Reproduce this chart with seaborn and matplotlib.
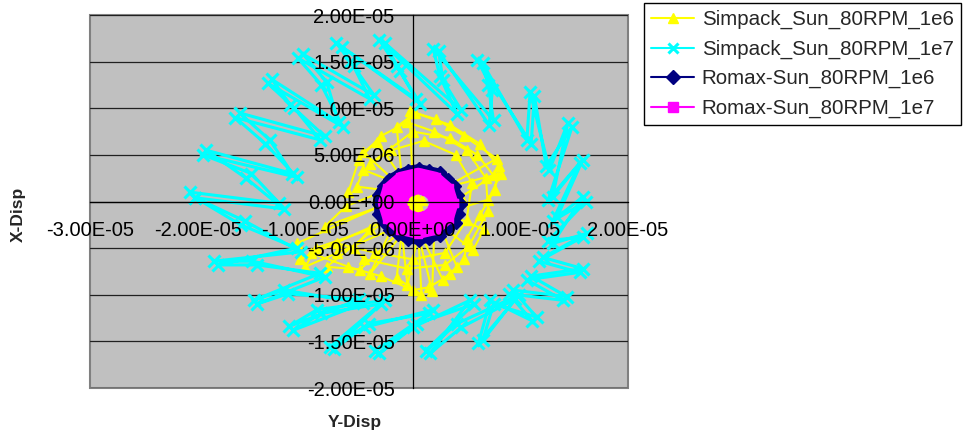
import numpy as np
import pandas as pd
import matplotlib
matplotlib.use("Agg")
import matplotlib.pyplot as plt
import seaborn as sns

sns.set_style("white")
plt.rcParams['font.family'] = ['Liberation Sans', 'DejaVu Sans']

# ---------------- data (displacements) ----------------
# Simpack_Sun_80RPM_1e6  (units of 1e-5)
simpack_1e6_x = [0.035, 0.09, 0.06, -0.01, -0.02, 0.04, 0.035,
                 0.00, -0.03, 0.22, 0.48, 0.78, 0.30, 0.82, 0.70, 0.30, 0.66, 0.56, 0.25,
                 0.41, 0.28, 0.05, 0.08, -0.15, -0.10, -0.49, -0.80, -0.25, -1.05, -1.08,
                 -0.30, -0.82, -0.62, -0.25, -0.52, -0.46, -0.15, -0.46, -0.33, -0.10,
                 -0.15, 0.02, 0.35, 0.62, 0.80, 0.76, 0.62, 0.50, 0.48, 0.35, 0.15, 0.00,
                 -0.30, -0.60, -0.95, -0.70, -0.35, 0.00, 0.30, 0.50, 0.55, 0.40, 0.10,
                 -0.20, -0.40,
                 0.00, 0.35, 0.60, 0.75, 0.45, 0.20, 0.18, 0.05, -0.05, -0.10, -0.40,
                 -0.20, -0.70, -1.00, -0.90, -0.40, -0.55, -0.45, -0.05, 0.30, 0.52,
                 0.70, 0.68, 0.50, 0.20, -0.05, -0.30, -0.50, -0.60]
simpack_1e6_y = [-0.02, 0.02, -0.07, -0.06, 0.02, 0.05, -0.02,
                 0.20, 0.97, 0.88, 0.70, 0.46, 0.15, 0.30, 0.02, -0.12, -0.30, -0.52, -0.25,
                 -0.70, -0.84, -0.30, -1.00, -0.82, -0.30, -0.73, -0.70, -0.20, -0.62, -0.45,
                 -0.05, -0.27, -0.05, 0.12, 0.16, 0.34, 0.20, 0.53, 0.64, 0.25,
                 0.80, 0.95, 0.82, 0.62, 0.38, 0.12, -0.15, -0.40, -0.62, -0.78, -0.92, -0.95,
                 -0.80, -0.70, -0.55, -0.45, -0.55, -0.62, -0.55, -0.20, 0.20, 0.50, 0.65,
                 0.55, 0.40,
                 0.75, 0.68, 0.50, 0.28, 0.05, -0.30, -0.96, -0.35, -0.90, -0.35, -0.78,
                 -0.30, -0.55, -0.70, -0.50, -0.30, -0.50, -0.62, -0.72, -0.68, -0.48,
                 -0.10, 0.25, 0.55, 0.75, 0.85, 0.70, 0.45, 0.10]

# Simpack_Sun_80RPM_1e7  (units of 1e-5), (x, y) pairs, two revolutions
simpack_1e7_rev1 = [
    (-2.07, 0.10), (-1.24, -0.02), (-1.50, 0.30),
    (-1.95, 0.50), (-1.08, 0.26), (-1.37, 0.62),
    (-1.65, 0.90), (-0.86, 0.66), (-1.10, 1.00),
    (-1.35, 1.27), (-0.65, 0.80), (-0.85, 1.25),
    (-1.07, 1.54), (-0.40, 1.10), (-0.55, 1.45),
    (-0.71, 1.70), (0.07, 1.05), (-0.15, 1.45),
    (-0.31, 1.73), (0.41, 0.94), (0.25, 1.35),
    (0.19, 1.64), (0.75, 0.87), (0.70, 1.25),
    (0.65, 1.48), (1.06, 0.66),
    (1.09, 1.17), (1.27, 0.34),
    (1.44, 0.84), (1.30, 0.05),
    (1.58, 0.45), (1.34, -0.17),
    (1.58, 0.05), (1.30, -0.45),
    (1.62, -0.34), (1.21, -0.60),
    (1.58, -0.72), (1.10, -0.80),
    (1.43, -1.02), (0.93, -0.95),
    (1.15, -1.24), (0.75, -1.10),
    (0.65, -1.49), (0.95, -1.05), (0.45, -1.35),
    (0.16, -1.63), (0.53, -1.06), (0.00, -1.35),
    (-0.31, -1.63), (0.19, -1.16), (-0.45, -1.35),
    (-0.77, -1.56), (-0.30, -1.10), (-0.85, -1.20),
    (-1.11, -1.38), (-0.46, -1.09), (-1.20, -0.95),
    (-1.48, -1.06), (-0.86, -0.77), (-1.45, -0.68),
    (-1.81, -0.68), (-1.08, -0.50), (-1.60, -0.25),
]
simpack_1e7_rev2 = [
    (-2.02, 0.04), (-1.20, -0.08), (-1.55, 0.25),
    (-1.92, 0.55), (-1.12, 0.30), (-1.33, 0.66),
    (-1.61, 0.95), (-0.82, 0.70), (-1.14, 1.04),
    (-1.31, 1.31), (-0.69, 0.85), (-0.80, 1.28),
    (-1.02, 1.58), (-0.36, 1.14), (-0.58, 1.50),
    (-0.66, 1.66), (0.03, 1.10), (-0.12, 1.40),
    (-0.26, 1.70), (0.45, 0.98), (0.28, 1.30),
    (0.24, 1.61), (0.71, 0.82), (0.74, 1.20),
    (0.60, 1.52), (1.10, 0.62),
    (1.13, 1.13), (1.24, 0.38),
    (1.48, 0.80), (1.26, 0.02),
    (1.55, 0.41), (1.30, -0.21),
    (1.61, 0.00), (1.26, -0.42),
    (1.58, -0.38), (1.17, -0.64),
    (1.55, -0.76), (1.06, -0.84),
    (1.40, -1.06), (0.89, -0.99),
    (1.11, -1.28), (0.72, -1.06),
    (0.61, -1.52), (0.99, -1.00), (0.41, -1.31),
    (0.12, -1.60), (0.57, -1.10), (0.04, -1.31),
    (-0.35, -1.60), (0.15, -1.20), (-0.41, -1.31),
    (-0.73, -1.58), (-0.26, -1.06), (-0.89, -1.16),
    (-1.15, -1.34), (-0.50, -1.05), (-1.16, -0.99),
    (-1.45, -1.10), (-0.82, -0.81), (-1.49, -0.64),
    (-1.85, -0.64), (-1.04, -0.54), (-1.56, -0.21),
    (-2.02, 0.04),
]

# Romax-Sun_80RPM_1e6  (units of 1e-6)
romax_1e6_x = [4.45, 4.22, 3.93, 3.27, 2.53, 1.53, 0.55, -0.45, -1.35, -2.21, -2.78, -3.27,
               -3.25, -3.22, -2.78, -2.21, -1.35, -0.47, 0.55, 1.55, 2.50, 3.24, 3.97, 4.27, 4.45]
romax_1e6_y = [-0.30, 0.68, 1.65, 2.42, 3.12, 3.37, 3.60, 3.42, 2.99, 2.46, 1.63, 0.72,
               -0.30, -1.31, -2.23, -3.06, -3.59, -4.12, -4.20, -4.02, -3.68, -2.99, -2.28, -1.30, -0.30]

# Romax-Sun_80RPM_1e7  (units of 1e-6)
romax_1e7_x = [3.80, 3.36, 2.15, 0.50, -1.15, -2.36, -2.80, -2.36, -1.15, 0.50, 2.15, 3.36, 3.80,
               2.90, 2.58, 1.70, 0.50, -0.70, -1.58, -1.90, -1.58, -0.70, 0.50, 1.70, 2.58, 2.90,
               2.00, 1.80, 1.25, 0.50, -0.25, -0.80, -1.00, -0.80, -0.25, 0.50, 1.25, 1.80, 2.00]
romax_1e7_y = [-0.20, 1.45, 2.66, 3.10, 2.66, 1.45, -0.20, -1.85, -3.06, -3.50, -3.06, -1.85, -0.20,
               -0.20, 1.00, 1.88, 2.20, 1.88, 1.00, -0.20, -1.40, -2.28, -2.60, -2.28, -1.40, -0.20,
               -0.20, 0.55, 1.10, 1.30, 1.10, 0.55, -0.20, -0.95, -1.50, -1.70, -1.50, -0.95, -0.20]

series_names = ["Simpack_Sun_80RPM_1e6", "Simpack_Sun_80RPM_1e7",
                "Romax-Sun_80RPM_1e6", "Romax-Sun_80RPM_1e7"]

x_ticks = [-3e-5, -2e-5, -1e-5, 0.0, 1e-5, 2e-5]
x_tick_labels = ["-3.00E-05", "-2.00E-05", "-1.00E-05", "0.00E+00", "1.00E-05", "2.00E-05"]
y_ticks = [-2e-5, -1.5e-5, -1e-5, -5e-6, 0.0, 5e-6, 1e-5, 1.5e-5, 2e-5]
y_tick_labels = ["-2.00E-05", "-1.50E-05", "-1.00E-05", "-5.00E-06", "0.00E+00",
                 "5.00E-06", "1.00E-05", "1.50E-05", "2.00E-05"]

# ---------------- frames ----------------
cyan_xy = np.array(simpack_1e7_rev1 + simpack_1e7_rev2)
df1 = pd.DataFrame({"x": np.array(simpack_1e6_x) * 1e-5, "y": np.array(simpack_1e6_y) * 1e-5})
df2 = pd.DataFrame({"x": cyan_xy[:, 0] * 1e-5, "y": cyan_xy[:, 1] * 1e-5})
df3 = pd.DataFrame({"x": np.array(romax_1e6_x) * 1e-6, "y": np.array(romax_1e6_y) * 1e-6})
df4 = pd.DataFrame({"x": np.array(romax_1e7_x) * 1e-6, "y": np.array(romax_1e7_y) * 1e-6})

fig = plt.figure(figsize=(9.63, 4.37), dpi=100)
ax = fig.add_axes([90 / 963, 49 / 437, 538 / 963, 373 / 437])
ax.set_facecolor("#C0C0C0")
ax.patch.set_edgecolor("#808080")
ax.patch.set_linewidth(1.5)

# gridlines (below data)
for yv in y_ticks:
    ax.axhline(yv, color="#202020", lw=0.9, zorder=0.8)

styles = [
    (df1, "#FFFF00", "^", 7, 1.5, 1.0),
    (df2, "#00FFFF", "x", 9, 2.2, 2.2),
    (df3, "#000080", "D", 6.5, 5.5, 1.0),
    (df4, "#FF00FF", "s", 6, 7.0, 1.0),
]
for (df, col, mk, ms, lw, mew), name in zip(styles, series_names):
    sns.lineplot(data=df, x="x", y="y", sort=False, estimator=None, ax=ax,
                 color=col, marker=mk, markersize=ms, lw=lw,
                 markeredgecolor=col, markerfacecolor=col, markeredgewidth=mew,
                 label=name, zorder=2)

ax.set_xlim(-3e-5, 2e-5)
ax.set_ylim(-2e-5, 2e-5)
ax.set_xlabel("")
ax.set_ylabel("")

ax.spines["left"].set_position(("data", 0))
ax.spines["bottom"].set_position(("data", 0))
ax.spines["top"].set_visible(False)
ax.spines["right"].set_visible(False)
for s in ("left", "bottom"):
    ax.spines[s].set_color("black")
    ax.spines[s].set_linewidth(0.9)
    ax.spines[s].set_zorder(3)

ax.set_axisbelow(False)
ax.set_xticks(x_ticks, labels=x_tick_labels)
ax.set_yticks(y_ticks, labels=y_tick_labels)
ax.tick_params(axis="x", direction="out", length=6, width=0.9, pad=8,
               labelsize=14.5, colors="black")
ax.tick_params(axis="y", direction="out", length=6, width=0.9, pad=7,
               labelsize=14.5, colors="black")
ax.xaxis.set_zorder(3)
ax.yaxis.set_zorder(3)

# axis titles
fig.text(355 / 963, 1 - 423 / 437, "Y-Disp", ha="center", va="center",
         fontsize=12.5, fontweight="bold")
fig.text(18 / 963, 1 - 214 / 437, "X-Disp", ha="center", va="center",
         rotation=90, fontsize=12.5, fontweight="bold")

handles, labels = ax.get_legend_handles_labels()
if ax.get_legend() is not None:
    ax.get_legend().remove()
leg = fig.legend(handles, labels, loc="upper left",
                 bbox_to_anchor=(644 / 963, 1 - 3 / 437), bbox_transform=fig.transFigure,
                 fontsize=14.8, frameon=True, fancybox=False, framealpha=1,
                 edgecolor="black", borderpad=0.35, handlelength=2.1,
                 handletextpad=0.35, labelspacing=0.5, borderaxespad=0)
leg.get_frame().set_linewidth(1.0)
for h in leg.legend_handles:
    h.set_linewidth(1.5)
    h.set_markersize(7)

fig.savefig("out.png", dpi=100)
